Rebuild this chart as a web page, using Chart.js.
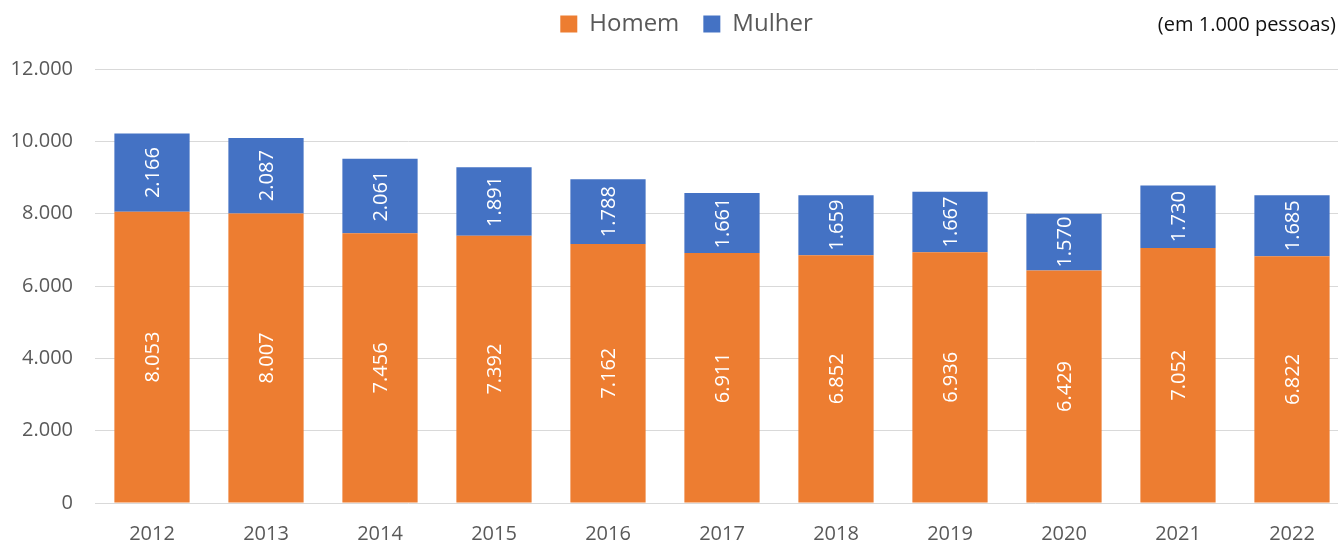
<!DOCTYPE html>
<html lang="pt-BR">
<head>
<meta charset="utf-8">
<title>Homem / Mulher 2012-2022</title>
<script src="https://cdn.jsdelivr.net/npm/chart.js@4.4.1/dist/chart.umd.min.js"></script>
<style>
  html, body { margin: 0; padding: 0; background: #fff; overflow: hidden; }
  #wrap { position: relative; width: 1349px; height: 542px; }
  #unit {
    position: absolute; top: 10px; left: 0; width: 1336px;
    text-align: right; font: 20px "Open Sans", sans-serif; color: #111;
  }
</style>
</head>
<body>
<div id="wrap">
  <canvas id="chart" width="1349" height="542"></canvas>
  <div id="unit">(em 1.000 pessoas)</div>
</div>
<script>
const years = ['2012', '2013', '2014', '2015', '2016', '2017', '2018', '2019', '2020', '2021', '2022'];
const homem = [8053, 8007, 7456, 7392, 7162, 6911, 6852, 6936, 6429, 7052, 6822];
const mulher = [2166, 2087, 2061, 1891, 1788, 1661, 1659, 1667, 1570, 1730, 1685];
const yTicks = [0, 2000, 4000, 6000, 8000, 10000, 12000];

// thousands with a dot, the way the labels are printed
function fmt(n) {
    return String(n).replace(/\B(?=(\d{3})+(?!\d))/g, '.');
}

// white values written sideways in the middle of each segment
const barLabels = {
    id: 'barLabels',
    afterDatasetsDraw(chart) {
        const ctx = chart.ctx;
        ctx.save();
        ctx.font = '20px "Open Sans"';
        ctx.fillStyle = '#ffffff';
        ctx.textAlign = 'center';
        ctx.textBaseline = 'middle';
        chart.data.datasets.forEach((ds, i) => {
            chart.getDatasetMeta(i).data.forEach((bar, j) => {
                const mid = (bar.y + bar.base) / 2;
                ctx.save();
                ctx.translate(bar.x + 1, mid);
                ctx.rotate(-Math.PI / 2);
                ctx.fillText(fmt(ds.data[j]), 0, 0);
                ctx.restore();
            });
        });
        ctx.restore();
    }
};

// legend sits a bit right of centre and leaves a gap above the plot
const legendTweak = {
    id: 'legendTweak',
    beforeLayout(chart) {
        const lg = chart.legend;
        if (lg && !lg._tweaked) {
            const fit = lg.fit.bind(lg);
            lg.fit = function () {
                fit();
                this.height += 23;
            };
            lg._tweaked = true;
        }
    },
    afterLayout(chart) {
        chart.legend.left += 12;
        chart.legend.right += 12;
    }
};

const ctx = document.getElementById('chart').getContext('2d');

const chart = new Chart(ctx, {
    type: 'bar',
    data: {
        labels: years,
        datasets: [{
            label: 'Homem',
            data: homem,
            backgroundColor: '#ED7D31',
            categoryPercentage: 0.66,
            barPercentage: 1
        },
        {
            label: 'Mulher',
            data: mulher,
            backgroundColor: '#4472C4',
            categoryPercentage: 0.66,
            barPercentage: 1
        }]
    },
    options: {
        responsive: false,
        animation: false,
        layout: {
            padding: { top: -12, right: 0, left: 0, bottom: 0 }
        },
        plugins: {
            legend: {
                position: 'top',
                labels: {
                    boxWidth: 17,
                    boxHeight: 17,
                    padding: 24,
                    color: '#595959',
                    font: { size: 24, family: '"Open Sans"' }
                }
            },
            tooltip: { enabled: false }
        },
        scales: {
            x: {
                stacked: true,
                grid: { display: false },
                border: { display: false },
                ticks: {
                    color: '#595959',
                    padding: 11,
                    font: { size: 20, family: '"Open Sans"' }
                },
                afterFit(scale) { scale.height = 39; }
            },
            y: {
                stacked: true,
                min: 0,
                max: 12000,
                afterBuildTicks(scale) {
                    scale.ticks = yTicks.map(v => ({ value: v }));
                },
                grid: { color: '#D9D9D9', lineWidth: 1, drawTicks: false },
                border: { display: false },
                ticks: {
                    color: '#595959',
                    padding: 22,
                    font: { size: 20, family: '"Open Sans"' },
                    callback: v => fmt(v)
                },
                afterFit(scale) { scale.width = 95; }
            }
        }
    },
    plugins: [barLabels, legendTweak]
});
</script>
</body>
</html>
